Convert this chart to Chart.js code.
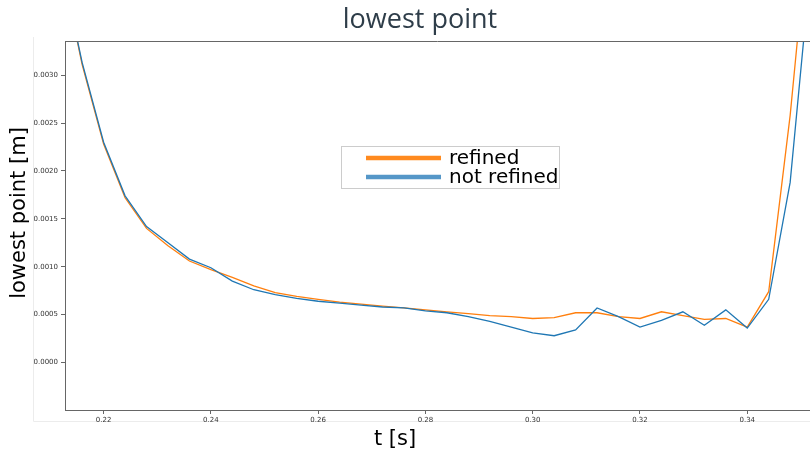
<!DOCTYPE html>
<html>
<head>
<meta charset="utf-8">
<script src="https://cdn.jsdelivr.net/npm/chart.js@4"></script>
<style>
  html, body { margin: 0; padding: 0; background: #fff; }
  #wrap { width: 810px; height: 449px; position: relative; }
</style>
</head>
<body>
<div id="wrap"><canvas id="chart"></canvas></div>
<script>
// time steps [s]
const times = [0.212, 0.216, 0.220, 0.224, 0.228, 0.232, 0.236, 0.240, 0.244, 0.248,
  0.252, 0.256, 0.260, 0.264, 0.268, 0.272, 0.276, 0.280, 0.284, 0.288,
  0.292, 0.296, 0.300, 0.304, 0.308, 0.312, 0.316, 0.320, 0.324, 0.328,
  0.332, 0.336, 0.340, 0.344, 0.348, 0.352];

// lowest point [m]
const refined = [0.00418, 0.00311, 0.00228, 0.00172, 0.00140, 0.00122, 0.00106, 0.00097, 0.00089, 0.00080,
  0.00073, 0.00069, 0.00066, 0.00063, 0.00061, 0.00059, 0.00057, 0.00055, 0.00053, 0.00051,
  0.00049, 0.00048, 0.00046, 0.00047, 0.00052, 0.00052, 0.00048, 0.00046, 0.00053, 0.00049,
  0.00045, 0.00046, 0.00037, 0.00074, 0.00258, 0.00490];

const notRefined = [0.00418, 0.00313, 0.00230, 0.00174, 0.00142, 0.00125, 0.00108, 0.00099, 0.00085, 0.00076,
  0.00071, 0.00067, 0.00064, 0.00062, 0.00060, 0.00058, 0.00057, 0.00054, 0.00052, 0.00048,
  0.00043, 0.00037, 0.00031, 0.00028, 0.00034, 0.00057, 0.00048, 0.00037, 0.00044, 0.00053,
  0.00039, 0.00055, 0.00036, 0.00066, 0.00188, 0.00424];

const xTicks = [0.22, 0.24, 0.26, 0.28, 0.30, 0.32, 0.34];
const yTicks = [0.0000, 0.0005, 0.0010, 0.0015, 0.0020, 0.0025, 0.0030];

const ORANGE = '#ff7f0e';
const BLUE = '#1f77b4';

const toPoints = (vals) => vals.map((v, i) => ({ x: times[i], y: v }));

// titles, frame and legend drawn by hand so they sit where the original has them
const decorations = {
  id: 'decorations',
  beforeDraw(chart) {
    const ctx = chart.ctx;
    ctx.save();
    ctx.strokeStyle = '#ececec';
    ctx.lineWidth = 1;
    ctx.beginPath();
    ctx.moveTo(33.5, 37);
    ctx.lineTo(33.5, 421.5);
    ctx.lineTo(810, 421.5);
    ctx.stroke();
    ctx.restore();
  },
  afterDraw(chart) {
    const ctx = chart.ctx;
    const a = chart.chartArea;
    ctx.save();
    // top spine
    ctx.strokeStyle = '#666';
    ctx.lineWidth = 1;
    ctx.beginPath();
    ctx.moveTo(a.left, a.top + 0.5);
    ctx.lineTo(a.right, a.top + 0.5);
    ctx.stroke();

    // title
    ctx.fillStyle = '#2e3d49';
    ctx.font = '27px "Open Sans"';
    ctx.textAlign = 'center';
    ctx.textBaseline = 'alphabetic';
    ctx.fillText('lowest point', 420, 28);

    // axis titles
    ctx.fillStyle = '#000';
    ctx.font = '21px "DejaVu Sans"';
    ctx.fillText('t [s]', 395, 445);
    ctx.save();
    ctx.translate(20, 213);
    ctx.rotate(-Math.PI / 2);
    ctx.textBaseline = 'middle';
    ctx.font = '21px "DejaVu Sans"';
    ctx.fillText('lowest point [m]', 0, 0);
    ctx.restore();

    // legend
    ctx.fillStyle = 'rgba(255,255,255,0.9)';
    ctx.fillRect(341, 146, 218, 42);
    ctx.strokeStyle = '#cccccc';
    ctx.strokeRect(341.5, 146.5, 218, 42);
    const items = [['refined', '#ff8a1f', 158], ['not refined', '#5597c8', 177]];
    ctx.font = '20px "DejaVu Sans"';
    ctx.textAlign = 'left';
    ctx.textBaseline = 'middle';
    items.forEach(([label, color, y]) => {
      ctx.strokeStyle = color;
      ctx.lineWidth = 4.5;
      ctx.beginPath();
      ctx.moveTo(366, y);
      ctx.lineTo(441, y);
      ctx.stroke();
      ctx.fillStyle = '#000';
      ctx.fillText(label, 449, y + 1);
    });
    ctx.restore();
  }
};

new Chart(document.getElementById('chart'), {
  type: 'line',
  data: {
    datasets: [
      {
        label: 'not refined',
        data: toPoints(notRefined),
        borderColor: BLUE,
        borderWidth: 1.3,
        pointRadius: 0,
        tension: 0
      },
      {
        label: 'refined',
        data: toPoints(refined),
        borderColor: ORANGE,
        borderWidth: 1.3,
        pointRadius: 0,
        tension: 0
      }
    ]
  },
  options: {
    responsive: true,
    maintainAspectRatio: false,
    animation: false,
    layout: { padding: { top: 41, left: 0, right: 0, bottom: 0 } },
    plugins: {
      legend: { display: false },
      title: { display: false },
      tooltip: { enabled: false }
    },
    scales: {
      x: {
        type: 'linear',
        min: 0.2128,
        max: 0.3517,
        afterBuildTicks: (scale) => { scale.ticks = xTicks.map(v => ({ value: v })); },
        afterFit: (scale) => { scale.height = 39; },
        border: { color: '#666', width: 1 },
        grid: { drawOnChartArea: false, tickLength: 4, color: '#666' },
        ticks: {
          color: '#333',
          font: { family: 'DejaVu Sans', size: 7 },
          padding: 2,
          maxRotation: 0,
          callback: (v) => v.toFixed(2)
        }
      },
      y: {
        min: -0.000495,
        max: 0.003356,
        afterBuildTicks: (scale) => { scale.ticks = yTicks.map(v => ({ value: v })); },
        afterFit: (scale) => { scale.width = 65; },
        border: { color: '#666', width: 1 },
        grid: { drawOnChartArea: false, tickLength: 4, color: '#666' },
        ticks: {
          color: '#333',
          font: { family: 'DejaVu Sans', size: 7 },
          padding: 3,
          callback: (v) => v.toFixed(4)
        }
      }
    }
  },
  plugins: [decorations]
});
</script>
</body>
</html>
